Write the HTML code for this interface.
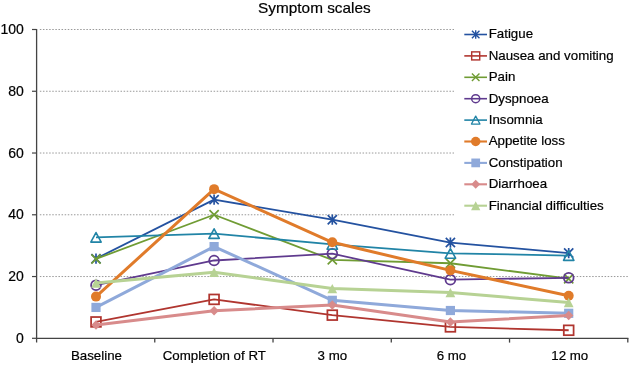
<!DOCTYPE html>
<html><head><meta charset="utf-8"><style>
html,body{margin:0;padding:0;background:#fff;}
body{width:630px;height:365px;overflow:hidden;}
svg{display:block;font-family:"Liberation Sans",sans-serif;will-change:transform;}
text{stroke:#000;stroke-width:0.2px;}
</style></head><body>
<svg width="630" height="365" viewBox="0 0 630 365">
<rect width="630" height="365" fill="#fff"/>

<text x="314.4" y="12.9" font-size="15.35" text-anchor="middle" fill="#000">Symptom scales</text>
<line x1="39.85" y1="276.54" x2="627.80" y2="276.54" stroke="#999" stroke-width="1" stroke-dasharray="1.5 1.603"/>
<line x1="39.85" y1="214.78" x2="627.80" y2="214.78" stroke="#999" stroke-width="1" stroke-dasharray="1.5 1.603"/>
<line x1="39.85" y1="153.02" x2="627.80" y2="153.02" stroke="#999" stroke-width="1" stroke-dasharray="1.5 1.603"/>
<line x1="39.85" y1="91.26" x2="627.80" y2="91.26" stroke="#999" stroke-width="1" stroke-dasharray="1.5 1.603"/>
<line x1="39.85" y1="29.50" x2="627.80" y2="29.50" stroke="#999" stroke-width="1" stroke-dasharray="1.5 1.603"/>
<text x="23.8" y="342.80" font-size="14" text-anchor="end" fill="#000">0</text>
<line x1="32" y1="338.30" x2="36.5" y2="338.30" stroke="#444" stroke-width="1.2"/>
<text x="23.8" y="281.04" font-size="14" text-anchor="end" fill="#000">20</text>
<line x1="32" y1="276.54" x2="36.5" y2="276.54" stroke="#444" stroke-width="1.2"/>
<text x="23.8" y="219.28" font-size="14" text-anchor="end" fill="#000">40</text>
<line x1="32" y1="214.78" x2="36.5" y2="214.78" stroke="#444" stroke-width="1.2"/>
<text x="23.8" y="157.52" font-size="14" text-anchor="end" fill="#000">60</text>
<line x1="32" y1="153.02" x2="36.5" y2="153.02" stroke="#444" stroke-width="1.2"/>
<text x="23.8" y="95.76" font-size="14" text-anchor="end" fill="#000">80</text>
<line x1="32" y1="91.26" x2="36.5" y2="91.26" stroke="#444" stroke-width="1.2"/>
<text x="23.8" y="34.00" font-size="14" text-anchor="end" fill="#000">100</text>
<line x1="32" y1="29.50" x2="36.5" y2="29.50" stroke="#444" stroke-width="1.2"/>
<line x1="36.6" y1="29" x2="36.6" y2="342.6" stroke="#444" stroke-width="1.3"/>
<line x1="36" y1="338.30" x2="628.40" y2="338.30" stroke="#444" stroke-width="1.3"/>
<line x1="154.76" y1="338.30" x2="154.76" y2="342.6" stroke="#444" stroke-width="1.3"/>
<line x1="273.02" y1="338.30" x2="273.02" y2="342.6" stroke="#444" stroke-width="1.3"/>
<line x1="391.28" y1="338.30" x2="391.28" y2="342.6" stroke="#444" stroke-width="1.3"/>
<line x1="509.54" y1="338.30" x2="509.54" y2="342.6" stroke="#444" stroke-width="1.3"/>
<line x1="627.80" y1="338.30" x2="627.80" y2="342.6" stroke="#444" stroke-width="1.3"/>
<text x="96.43" y="360.1" font-size="13.3" text-anchor="middle" fill="#000">Baseline</text>
<text x="214.29" y="360.1" font-size="13.3" text-anchor="middle" fill="#000">Completion of RT</text>
<text x="332.35" y="360.1" font-size="13.3" text-anchor="middle" fill="#000">3 mo</text>
<text x="451.41" y="360.1" font-size="13.3" text-anchor="middle" fill="#000">6 mo</text>
<text x="569.77" y="360.1" font-size="13.3" text-anchor="middle" fill="#000">12 mo</text>
<rect x="454" y="20" width="176" height="200" fill="#fff"/>
<polyline points="96.00,258.63 214.10,199.65 332.30,219.72 450.40,242.57 568.70,253.07" fill="none" stroke="#2452A0" stroke-width="1.8" stroke-linejoin="round"/>
<path d="M96.00 253.53V263.73M91.40 254.03L100.60 263.23M100.60 254.03L91.40 263.23" stroke="#2452A0" stroke-width="1.70" fill="none"/>
<path d="M214.10 194.55V204.75M209.50 195.05L218.70 204.25M218.70 195.05L209.50 204.25" stroke="#2452A0" stroke-width="1.70" fill="none"/>
<path d="M332.30 214.62V224.82M327.70 215.12L336.90 224.32M336.90 215.12L327.70 224.32" stroke="#2452A0" stroke-width="1.70" fill="none"/>
<path d="M450.40 237.47V247.67M445.80 237.97L455.00 247.17M455.00 237.97L445.80 247.17" stroke="#2452A0" stroke-width="1.70" fill="none"/>
<path d="M568.70 247.97V258.17M564.10 248.47L573.30 257.67M573.30 248.47L564.10 257.67" stroke="#2452A0" stroke-width="1.70" fill="none"/>
<polyline points="96.00,321.93 214.10,299.39 332.30,315.14 450.40,326.87 568.70,330.27" fill="none" stroke="#B0352F" stroke-width="1.8" stroke-linejoin="round"/>
<rect x="91.10" y="317.03" width="9.80" height="9.80" stroke="#B0352F" stroke-width="1.75" fill="none"/>
<rect x="209.20" y="294.49" width="9.80" height="9.80" stroke="#B0352F" stroke-width="1.75" fill="none"/>
<rect x="327.40" y="310.24" width="9.80" height="9.80" stroke="#B0352F" stroke-width="1.75" fill="none"/>
<rect x="445.50" y="321.97" width="9.80" height="9.80" stroke="#B0352F" stroke-width="1.75" fill="none"/>
<rect x="563.80" y="325.37" width="9.80" height="9.80" stroke="#B0352F" stroke-width="1.75" fill="none"/>
<polyline points="96.00,258.94 214.10,214.78 332.30,259.86 450.40,263.26 568.70,278.70" fill="none" stroke="#709C34" stroke-width="1.8" stroke-linejoin="round"/>
<path d="M91.40 254.34L100.60 263.54M100.60 254.34L91.40 263.54" stroke="#709C34" stroke-width="1.70" fill="none"/>
<path d="M209.50 210.18L218.70 219.38M218.70 210.18L209.50 219.38" stroke="#709C34" stroke-width="1.70" fill="none"/>
<path d="M327.70 255.26L336.90 264.46M336.90 255.26L327.70 264.46" stroke="#709C34" stroke-width="1.70" fill="none"/>
<path d="M445.80 258.66L455.00 267.86M455.00 258.66L445.80 267.86" stroke="#709C34" stroke-width="1.70" fill="none"/>
<path d="M564.10 274.10L573.30 283.30M573.30 274.10L564.10 283.30" stroke="#709C34" stroke-width="1.70" fill="none"/>
<polyline points="96.00,285.19 214.10,260.48 332.30,253.69 450.40,279.63 568.70,277.78" fill="none" stroke="#5F3A8E" stroke-width="1.8" stroke-linejoin="round"/>
<circle cx="96.00" cy="285.19" r="4.90" stroke="#5F3A8E" stroke-width="1.80" fill="none"/>
<circle cx="214.10" cy="260.48" r="4.90" stroke="#5F3A8E" stroke-width="1.80" fill="none"/>
<circle cx="332.30" cy="253.69" r="4.90" stroke="#5F3A8E" stroke-width="1.80" fill="none"/>
<circle cx="450.40" cy="279.63" r="4.90" stroke="#5F3A8E" stroke-width="1.80" fill="none"/>
<circle cx="568.70" cy="277.78" r="4.90" stroke="#5F3A8E" stroke-width="1.80" fill="none"/>
<polyline points="96.00,237.32 214.10,233.62 332.30,244.42 450.40,253.38 568.70,255.54" fill="none" stroke="#2184A6" stroke-width="1.8" stroke-linejoin="round"/>
<path d="M96.00 232.52L101.20 242.12L90.80 242.12Z" stroke="#2184A6" stroke-width="1.60" fill="none" stroke-linejoin="round"/>
<path d="M214.10 228.82L219.30 238.42L208.90 238.42Z" stroke="#2184A6" stroke-width="1.60" fill="none" stroke-linejoin="round"/>
<path d="M332.30 239.62L337.50 249.22L327.10 249.22Z" stroke="#2184A6" stroke-width="1.60" fill="none" stroke-linejoin="round"/>
<path d="M450.40 248.58L455.60 258.18L445.20 258.18Z" stroke="#2184A6" stroke-width="1.60" fill="none" stroke-linejoin="round"/>
<path d="M568.70 250.74L573.90 260.34L563.50 260.34Z" stroke="#2184A6" stroke-width="1.60" fill="none" stroke-linejoin="round"/>
<polyline points="96.00,296.61 214.10,189.15 332.30,242.26 450.40,270.36 568.70,295.69" fill="none" stroke="#E07B2A" stroke-width="3.0" stroke-linejoin="round"/>
<circle cx="96.00" cy="296.61" r="5.00" fill="#E07B2A"/>
<circle cx="214.10" cy="189.15" r="5.00" fill="#E07B2A"/>
<circle cx="332.30" cy="242.26" r="5.00" fill="#E07B2A"/>
<circle cx="450.40" cy="270.36" r="5.00" fill="#E07B2A"/>
<circle cx="568.70" cy="295.69" r="5.00" fill="#E07B2A"/>
<polyline points="96.00,307.42 214.10,246.59 332.30,300.32 450.40,310.51 568.70,313.29" fill="none" stroke="#8FA9DA" stroke-width="3.0" stroke-linejoin="round"/>
<rect x="91.40" y="302.82" width="9.20" height="9.20" fill="#8FA9DA"/>
<rect x="209.50" y="241.99" width="9.20" height="9.20" fill="#8FA9DA"/>
<rect x="327.70" y="295.72" width="9.20" height="9.20" fill="#8FA9DA"/>
<rect x="445.80" y="305.91" width="9.20" height="9.20" fill="#8FA9DA"/>
<rect x="564.10" y="308.69" width="9.20" height="9.20" fill="#8FA9DA"/>
<polyline points="96.00,325.02 214.10,310.82 332.30,304.95 450.40,321.93 568.70,315.45" fill="none" stroke="#D88B8B" stroke-width="3.0" stroke-linejoin="round"/>
<path d="M96.00 320.22L100.70 325.02L96.00 329.82L91.30 325.02Z" fill="#D88B8B"/>
<path d="M214.10 306.02L218.80 310.82L214.10 315.62L209.40 310.82Z" fill="#D88B8B"/>
<path d="M332.30 300.15L337.00 304.95L332.30 309.75L327.60 304.95Z" fill="#D88B8B"/>
<path d="M450.40 317.13L455.10 321.93L450.40 326.73L445.70 321.93Z" fill="#D88B8B"/>
<path d="M568.70 310.65L573.40 315.45L568.70 320.25L564.00 315.45Z" fill="#D88B8B"/>
<polyline points="96.00,283.02 214.10,272.22 332.30,288.58 450.40,292.60 568.70,302.48" fill="none" stroke="#B7D294" stroke-width="3.0" stroke-linejoin="round"/>
<path d="M96.00 278.32L100.90 287.72L91.10 287.72Z" fill="#B7D294"/>
<path d="M214.10 267.52L219.00 276.92L209.20 276.92Z" fill="#B7D294"/>
<path d="M332.30 283.88L337.20 293.28L327.40 293.28Z" fill="#B7D294"/>
<path d="M450.40 287.90L455.30 297.30L445.50 297.30Z" fill="#B7D294"/>
<path d="M568.70 297.78L573.60 307.18L563.80 307.18Z" fill="#B7D294"/>
<line x1="464.3" y1="34.50" x2="487" y2="34.50" stroke="#2452A0" stroke-width="1.6"/>
<path d="M475.70 30.32V38.68M471.93 30.73L479.47 38.27M479.47 30.73L471.93 38.27" stroke="#2452A0" stroke-width="1.39" fill="none"/>
<text x="488.7" y="38.30" font-size="13.3" fill="#000">Fatigue</text>
<line x1="464.3" y1="55.90" x2="487" y2="55.90" stroke="#B0352F" stroke-width="1.6"/>
<rect x="471.68" y="51.88" width="8.04" height="8.04" stroke="#B0352F" stroke-width="1.43" fill="none"/>
<text x="488.7" y="59.70" font-size="13.3" fill="#000">Nausea and vomiting</text>
<line x1="464.3" y1="77.30" x2="487" y2="77.30" stroke="#709C34" stroke-width="1.6"/>
<path d="M471.93 73.53L479.47 81.07M479.47 73.53L471.93 81.07" stroke="#709C34" stroke-width="1.39" fill="none"/>
<text x="488.7" y="81.10" font-size="13.3" fill="#000">Pain</text>
<line x1="464.3" y1="98.70" x2="487" y2="98.70" stroke="#5F3A8E" stroke-width="1.6"/>
<circle cx="475.70" cy="98.70" r="4.02" stroke="#5F3A8E" stroke-width="1.48" fill="none"/>
<text x="488.7" y="102.50" font-size="13.3" fill="#000">Dyspnoea</text>
<line x1="464.3" y1="120.10" x2="487" y2="120.10" stroke="#2184A6" stroke-width="1.6"/>
<path d="M475.70 116.16L479.96 124.04L471.44 124.04Z" stroke="#2184A6" stroke-width="1.31" fill="none" stroke-linejoin="round"/>
<text x="488.7" y="123.90" font-size="13.3" fill="#000">Insomnia</text>
<line x1="464.3" y1="141.50" x2="487" y2="141.50" stroke="#E07B2A" stroke-width="2.1"/>
<circle cx="475.70" cy="141.50" r="4.75" fill="#E07B2A"/>
<text x="488.7" y="145.30" font-size="13.3" fill="#000">Appetite loss</text>
<line x1="464.3" y1="162.90" x2="487" y2="162.90" stroke="#8FA9DA" stroke-width="2.1"/>
<rect x="471.33" y="158.53" width="8.74" height="8.74" fill="#8FA9DA"/>
<text x="488.7" y="166.70" font-size="13.3" fill="#000">Constipation</text>
<line x1="464.3" y1="184.30" x2="487" y2="184.30" stroke="#D88B8B" stroke-width="2.1"/>
<path d="M475.70 179.74L480.16 184.30L475.70 188.86L471.24 184.30Z" fill="#D88B8B"/>
<text x="488.7" y="188.10" font-size="13.3" fill="#000">Diarrhoea</text>
<line x1="464.3" y1="205.70" x2="487" y2="205.70" stroke="#B7D294" stroke-width="2.1"/>
<path d="M475.70 201.23L480.35 210.16L471.05 210.16Z" fill="#B7D294"/>
<text x="488.7" y="209.50" font-size="13.3" fill="#000">Financial difficulties</text>
</svg></body></html>
